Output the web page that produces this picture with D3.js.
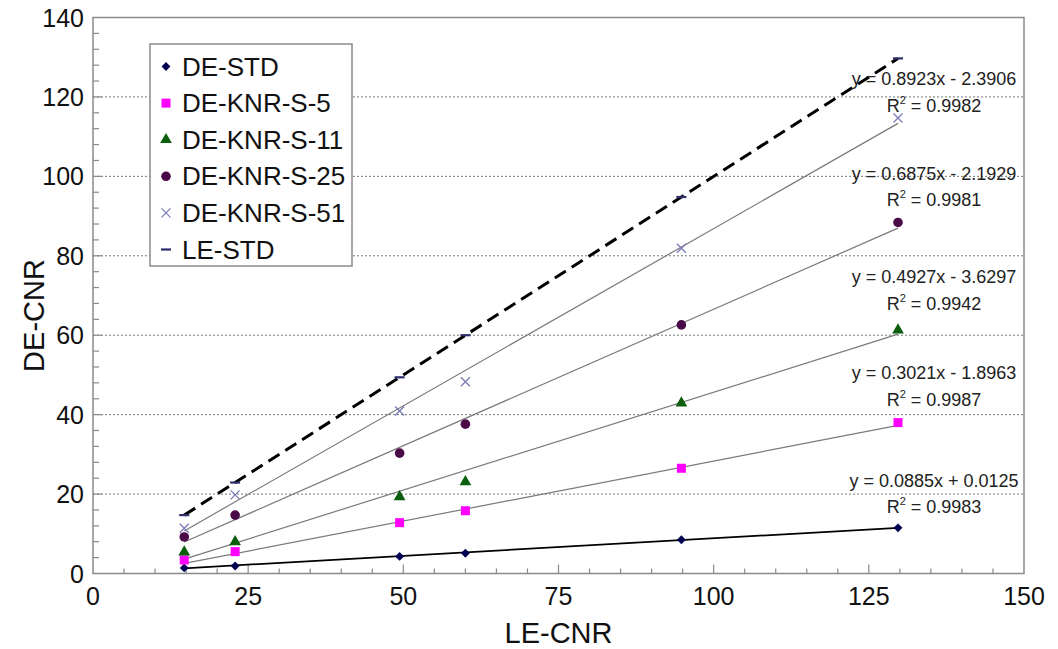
<!DOCTYPE html>
<html>
<head>
<meta charset="utf-8">
<script src="https://cdn.jsdelivr.net/npm/d3@7"></script>
<style>
  html, body { margin: 0; padding: 0; background: #fff; }
  svg { display: block; font-family: Arial, "Liberation Sans", sans-serif; }
</style>
</head>
<body>
<svg id="chart" width="1058" height="649"></svg>
<script>
// LE-CNR measurement points (x axis)
const leCnr = [14.7, 22.9, 49.4, 60.0, 94.8, 129.7];

// DE-CNR values per reconstruction setting
const seriesNames = ["DE-STD", "DE-KNR-S-5", "DE-KNR-S-11", "DE-KNR-S-25", "DE-KNR-S-51", "LE-STD"];
const deStd   = [1.4, 1.9, 4.3, 5.1, 8.5, 11.5];
const knrS5   = [3.4, 5.5, 12.8, 15.8, 26.5, 38.0];
const knrS11  = [5.4, 8.0, 19.3, 23.1, 42.9, 61.3];
const knrS25  = [9.2, 14.7, 30.3, 37.6, 62.6, 88.4];
const knrS51  = [11.4, 19.8, 40.9, 48.3, 81.9, 114.7];
const leStd   = [14.7, 22.9, 49.4, 60.0, 94.8, 129.7];

// Linear fits (slope, intercept, R²) for the five DE series
const fitSlopes     = [0.0885, 0.3021, 0.4927, 0.6875, 0.8923];
const fitIntercepts = [0.0125, -1.8963, -3.6297, -2.1929, -2.3906];
const fitR2         = ["0.9983", "0.9987", "0.9942", "0.9981", "0.9982"];

// Axis ticks
const xTicks = [0, 25, 50, 75, 100, 125, 150];
const yTicks = [0, 20, 40, 60, 80, 100, 120, 140];

// ---------- layout ----------
const svg = d3.select("#chart");
const L = 93, T = 17.5, R = 1024, B = 573.5;
const x = d3.scaleLinear().domain([0, 150]).range([L, R]);
const y = d3.scaleLinear().domain([0, 140]).range([B, T]);

const markerColors = ["#000050", "#ff00ff", "#0b5e0b", "#4a0a48", "#7b7bb8", "#2d2d6e"];
const seriesValues = [deStd, knrS5, knrS11, knrS25, knrS51, leStd];

// gridlines (dotted)
svg.append("g")
  .selectAll("line")
  .data(yTicks.filter(d => d > 0 && d < 140))
  .join("line")
  .attr("x1", L).attr("x2", R)
  .attr("y1", d => y(d)).attr("y2", d => y(d))
  .attr("stroke", "#777")
  .attr("stroke-width", 1)
  .attr("stroke-dasharray", "2,2");

// plot frame
svg.append("rect")
  .attr("x", L).attr("y", T)
  .attr("width", R - L).attr("height", B - T)
  .attr("fill", "none")
  .attr("stroke", "#8a8a8a")
  .attr("stroke-width", 1.5);

// minor / major inner ticks on x axis
const xMinor = d3.range(0, 151, 5);
svg.append("g").selectAll("line")
  .data(xMinor.filter(d => d > 0 && d < 150))
  .join("line")
  .attr("x1", d => x(d)).attr("x2", d => x(d))
  .attr("y1", B).attr("y2", d => B - (d % 25 === 0 ? 9 : 5))
  .attr("stroke", "#8a8a8a").attr("stroke-width", 1.2);

// minor inner ticks on y axis
const yMinor = d3.range(0, 141, 4);
svg.append("g").selectAll("line")
  .data(yMinor.filter(d => d > 0 && d < 140))
  .join("line")
  .attr("x1", L).attr("x2", d => L + (d % 20 === 0 ? 9 : 6))
  .attr("y1", d => y(d)).attr("y2", d => y(d))
  .attr("stroke", "#8a8a8a").attr("stroke-width", 1.2);

// tick labels
svg.append("g").selectAll("text")
  .data(xTicks)
  .join("text")
  .attr("x", d => x(d))
  .attr("y", B + 31)
  .attr("text-anchor", "middle")
  .attr("font-size", 25)
  .attr("fill", "#111")
  .text(d => d);

svg.append("g").selectAll("text")
  .data(yTicks)
  .join("text")
  .attr("x", L - 9)
  .attr("y", d => y(d) + 9)
  .attr("text-anchor", "end")
  .attr("font-size", 25)
  .attr("fill", "#111")
  .text(d => d);

// axis titles
svg.append("text")
  .attr("x", x(75))
  .attr("y", 643)
  .attr("text-anchor", "middle")
  .attr("font-size", 29)
  .attr("fill", "#111")
  .text("LE-CNR");

svg.append("text")
  .attr("transform", `translate(44, ${(T + B) / 2 + 20}) rotate(-90)`)
  .attr("text-anchor", "middle")
  .attr("font-size", 29)
  .attr("fill", "#111")
  .text("DE-CNR");

// fit lines
const x0 = d3.min(leCnr), x1 = d3.max(leCnr);
svg.append("g").selectAll("line")
  .data(fitSlopes.map((m, i) => ({ m, b: fitIntercepts[i], i })))
  .join("line")
  .attr("x1", x(x0)).attr("x2", x(x1))
  .attr("y1", d => y(d.m * x0 + d.b))
  .attr("y2", d => y(d.m * x1 + d.b))
  .attr("stroke", d => d.i === 0 ? "#000" : "#7a7a7a")
  .attr("stroke-width", d => d.i === 0 ? 1.8 : 1.2);

// LE-STD reference line (dashed)
svg.append("path")
  .datum(leCnr.map((v, i) => [v, leStd[i]]))
  .attr("d", d3.line().x(d => x(d[0])).y(d => y(d[1])))
  .attr("fill", "none")
  .attr("stroke", "#000")
  .attr("stroke-width", 3)
  .attr("stroke-dasharray", "13,7");

// marker drawing
function drawMarker(g, idx, cx, cy) {
  const c = markerColors[idx];
  if (idx === 0) {
    g.append("path").attr("d", d3.symbol(d3.symbolDiamond2, 50)())
      .attr("transform", `translate(${cx},${cy})`).attr("fill", c);
  } else if (idx === 1) {
    g.append("rect").attr("x", cx - 4.5).attr("y", cy - 4.5)
      .attr("width", 9).attr("height", 9).attr("fill", c);
  } else if (idx === 2) {
    g.append("path").attr("d", d3.symbol(d3.symbolTriangle, 60)())
      .attr("transform", `translate(${cx},${cy})`).attr("fill", c);
  } else if (idx === 3) {
    g.append("circle").attr("cx", cx).attr("cy", cy).attr("r", 4.8).attr("fill", c);
  } else if (idx === 4) {
    g.append("path")
      .attr("d", `M${cx - 4.5},${cy - 4.5}L${cx + 4.5},${cy + 4.5}M${cx - 4.5},${cy + 4.5}L${cx + 4.5},${cy - 4.5}`)
      .attr("stroke", c).attr("stroke-width", 1.3).attr("fill", "none");
  } else {
    g.append("line").attr("x1", cx - 5).attr("x2", cx + 5)
      .attr("y1", cy).attr("y2", cy)
      .attr("stroke", c).attr("stroke-width", 2.2);
  }
}

// data points
const pts = svg.append("g");
seriesValues.forEach((vals, si) => {
  vals.forEach((v, i) => drawMarker(pts, si, x(leCnr[i]), y(v)));
});

// fit equations
const eqAnchorX = 135.5;
const eqAnchorY = [21.9, 48.9, 73.1, 99.1, 123.0];
const fmt = d3.format(".4f");
const eqG = svg.append("g").attr("font-size", 18).attr("fill", "#222");
fitSlopes.forEach((m, i) => {
  const b = fitIntercepts[i];
  const eq = `y = ${fmt(m)}x ${b < 0 ? "-" : "+"} ${fmt(Math.abs(b))}`;
  eqG.append("text")
    .attr("x", x(eqAnchorX)).attr("y", y(eqAnchorY[i]))
    .attr("text-anchor", "middle")
    .text(eq);
  const r = eqG.append("text")
    .attr("x", x(eqAnchorX)).attr("y", y(eqAnchorY[i]) + 26.5)
    .attr("text-anchor", "middle");
  r.append("tspan").text("R");
  r.append("tspan").attr("font-size", 11).attr("dy", -8).text("2");
  r.append("tspan").attr("dy", 8).text(` = ${fitR2[i]}`);
});

// legend
const lg = svg.append("g");
lg.append("rect")
  .attr("x", 150).attr("y", 44)
  .attr("width", 202).attr("height", 222)
  .attr("fill", "#fff")
  .attr("stroke", "#8a8a8a").attr("stroke-width", 1.5);
seriesNames.forEach((name, i) => {
  const cy = 66.5 + i * 36.6;
  drawMarker(lg, i, 166, cy);
  lg.append("text")
    .attr("x", 182).attr("y", cy + 9)
    .attr("font-size", 26)
    .attr("fill", "#111")
    .text(name);
});
</script>
</body>
</html>
